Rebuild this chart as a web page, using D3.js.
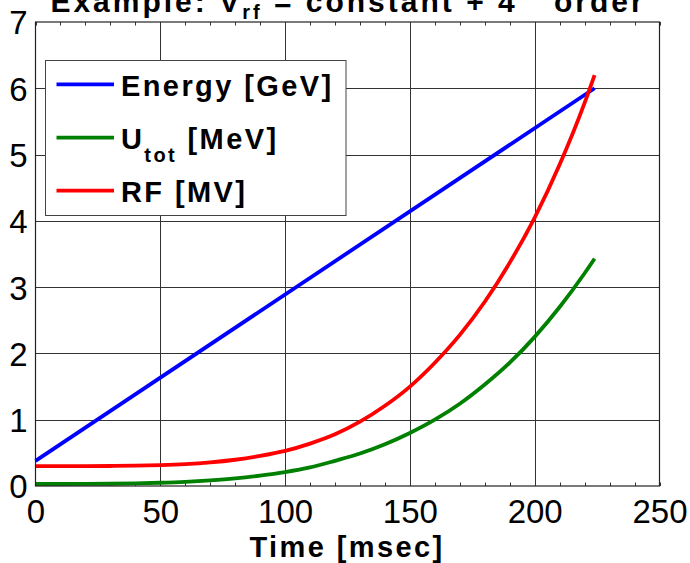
<!DOCTYPE html>
<html>
<head>
<meta charset="utf-8">
<script src="https://cdn.jsdelivr.net/npm/d3@7"></script>
<style>
  html, body { margin: 0; padding: 0; background: #fff; }
  svg { display: block; }
  text { font-family: "Liberation Sans", Arial, Helvetica, sans-serif; fill: #000; }
</style>
</head>
<body>
<svg id="chart" width="690" height="563"></svg>
<script>
// Ramp time samples (msec) and the three traces
const energyTime = [0, 224];
const energyGeV = [0.38, 6.0];

const curveTime = [0, 10, 20, 30, 40, 50, 60, 70, 80, 90, 100, 110, 120, 130, 140, 150, 160, 170, 180, 190, 200, 210, 220, 224];
const utotMeV   = [0.030, 0.030, 0.031, 0.034, 0.040, 0.049, 0.063, 0.085, 0.115, 0.157, 0.21, 0.28, 0.38, 0.49, 0.63, 0.80, 1.00, 1.24, 1.53, 1.86, 2.25, 2.70, 3.21, 3.43];
const rfMV      = [0.300, 0.300, 0.300, 0.302, 0.306, 0.315, 0.330, 0.356, 0.396, 0.454, 0.53, 0.64, 0.78, 0.97, 1.21, 1.50, 1.86, 2.28, 2.78, 3.37, 4.05, 4.85, 5.78, 6.20];

const xTicks = [0, 50, 100, 150, 200, 250];
const xMinorTicks = d3.range(0, 251, 10);
const yTicks = [0, 1, 2, 3, 4, 5, 6, 7];

const seriesNames = ["Energy [GeV]", "U_tot [MeV]", "RF [MV]"];
const seriesColors = ["#0000ff", "#008000", "#ff0000"];

const svg = d3.select("#chart");
const x = d3.scaleLinear().domain([0, 250]).range([35.5, 659.5]);
const y = d3.scaleLinear().domain([0, 7]).range([486, 22]);

const gridColor = "#333";

// grid
const grid = svg.append("g");
grid.selectAll("line.gx").data(xTicks.slice(1, -1)).join("line")
  .attr("x1", d => Math.round(x(d)) + 0.5).attr("x2", d => Math.round(x(d)) + 0.5)
  .attr("y1", y(7)).attr("y2", y(0))
  .attr("stroke", gridColor).attr("stroke-width", 1);
grid.selectAll("line.gy").data(yTicks.slice(1, -1)).join("line")
  .attr("y1", d => Math.round(y(d)) + 0.5).attr("y2", d => Math.round(y(d)) + 0.5)
  .attr("x1", x(0)).attr("x2", x(250))
  .attr("stroke", gridColor).attr("stroke-width", 1);

// minor ticks on top and bottom edges
const minor = svg.append("g");
minor.selectAll("line.mb").data(xMinorTicks).join("line")
  .attr("x1", d => Math.round(x(d)) + 0.5).attr("x2", d => Math.round(x(d)) + 0.5)
  .attr("y1", y(0)).attr("y2", y(0) - 3.5)
  .attr("stroke", gridColor);
minor.selectAll("line.mt").data(xMinorTicks).join("line")
  .attr("x1", d => Math.round(x(d)) + 0.5).attr("x2", d => Math.round(x(d)) + 0.5)
  .attr("y1", y(7)).attr("y2", y(7) + 3.5)
  .attr("stroke", gridColor);

// axes with tick labels
const xAxis = svg.append("g").attr("transform", `translate(0,${y(0)})`)
  .call(d3.axisBottom(x).tickValues(xTicks).tickFormat(d3.format("d")).tickSize(0).tickPadding(0));
xAxis.select(".domain").remove();
xAxis.selectAll("text").attr("dy", null).attr("y", 37).attr("font-size", 33);

const yAxis = svg.append("g").attr("transform", `translate(${x(0)},0)`)
  .call(d3.axisLeft(y).tickValues(yTicks).tickFormat(d3.format("d")).tickSize(0).tickPadding(0));
yAxis.select(".domain").remove();
yAxis.selectAll("text").attr("x", -8).attr("dy", "0.36em").attr("font-size", 33);

// data lines
const line = d3.line().x(d => x(d[0])).y(d => y(d[1])).curve(d3.curveMonotoneX);
const traces = [
  d3.zip(energyTime, energyGeV),
  d3.zip(curveTime, utotMeV),
  d3.zip(curveTime, rfMV)
];
svg.append("g").selectAll("path").data(traces).join("path")
  .attr("d", line)
  .attr("fill", "none")
  .attr("stroke", (d, i) => seriesColors[i])
  .attr("stroke-width", 3.8)
  .attr("stroke-linejoin", "round");

// plot frame
svg.append("rect")
  .attr("x", x(0)).attr("y", y(7))
  .attr("width", x(250) - x(0)).attr("height", y(0) - y(7))
  .attr("fill", "none").attr("stroke", "#222").attr("stroke-width", 1.2);

// legend
const leg = svg.append("g");
leg.append("rect").attr("x", 45.5).attr("y", 60.5).attr("width", 300.5).attr("height", 155)
  .attr("fill", "#fff").attr("stroke", "#444").attr("stroke-width", 1);
const rowY = [84.3, 137.7, 190.7];
seriesNames.forEach((name, i) => {
  leg.append("line").attr("x1", 56.5).attr("x2", 114).attr("y1", rowY[i]).attr("y2", rowY[i])
    .attr("stroke", seriesColors[i]).attr("stroke-width", 3.8);
  const t = leg.append("text").attr("x", 121).attr("y", rowY[i] + 11.4)
    .attr("font-size", 29).attr("font-weight", "bold").attr("letter-spacing", 2.4);
  const parts = name.split("_");
  if (parts.length === 1) {
    t.text(name);
  } else {
    const [base, rest] = [parts[0], parts[1]];
    const sp = rest.indexOf(" ");
    t.append("tspan").text(base);
    t.append("tspan").attr("dy", 13.3).attr("font-size", 20).text(rest.slice(0, sp));
    t.append("tspan").attr("dy", -13.3).text(rest.slice(sp));
  }
});

// title
const title = svg.append("text").attr("x", 348).attr("y", 12)
  .attr("text-anchor", "middle").attr("font-size", 30).attr("font-weight", "bold")
  .attr("letter-spacing", 3.0);
title.append("tspan").text("Example: V");
title.append("tspan").attr("dy", 7.3).attr("font-size", 20).text("rf");
title.append("tspan").attr("dy", -7.3).text(" = constant + 4");
title.append("tspan").attr("dy", -13).attr("font-size", 20).text("th");
title.append("tspan").attr("dy", 13).text(" order");

// x axis label
svg.append("text").attr("x", 347).attr("y", 557)
  .attr("text-anchor", "middle").attr("font-size", 29).attr("font-weight", "bold")
  .attr("letter-spacing", 2.4)
  .text("Time [msec]");
</script>
</body>
</html>
